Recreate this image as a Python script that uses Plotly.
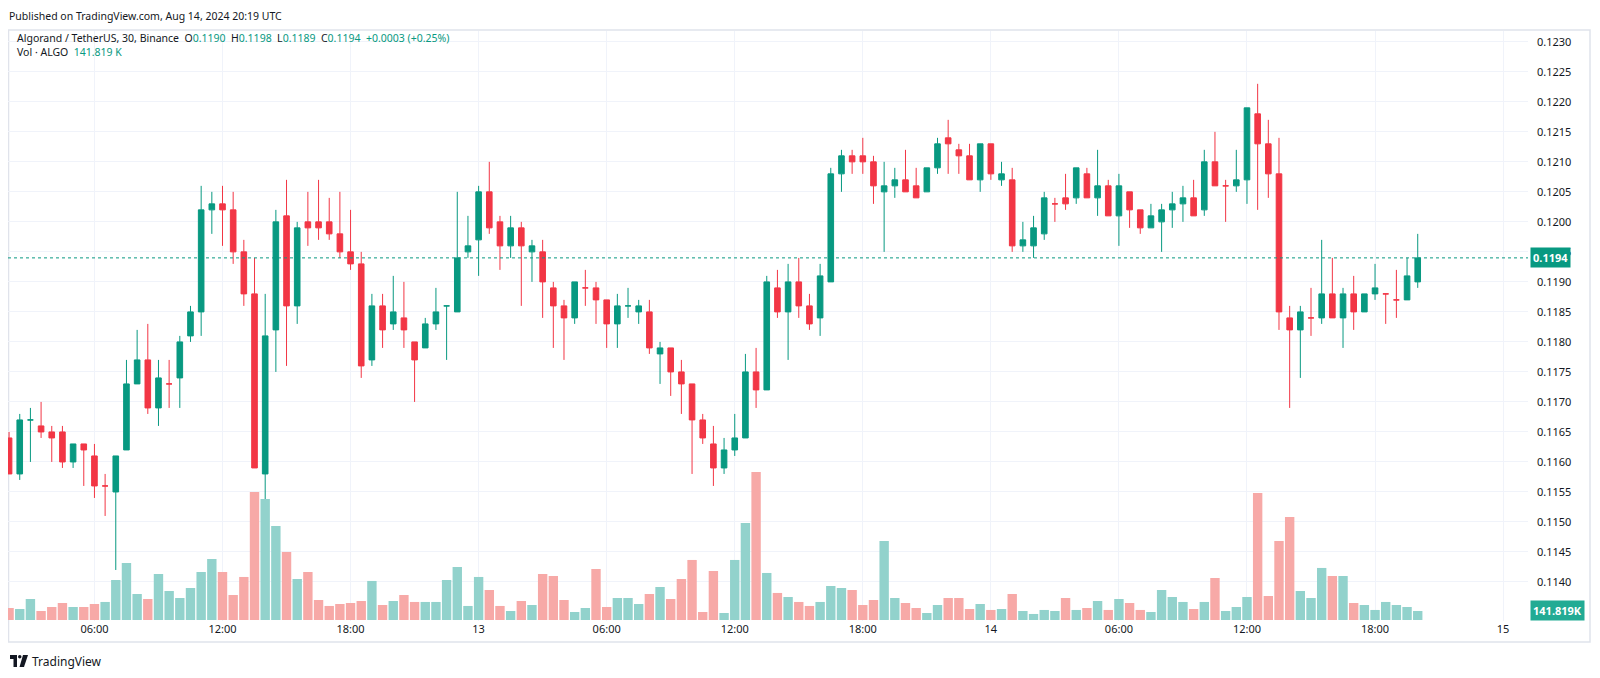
import pandas as pd
import plotly.graph_objects as go

# ALGO/USDT 30m candles, Aug 12 02:00 -> Aug 14 20:00 UTC
start = "2024-08-12 02:00"

opens = [0.1164, 0.1158, 0.1167, 0.1166, 0.1165, 0.1165, 0.1160, 0.1163, 0.1161, 0.1156,
         0.1155, 0.1162, 0.1173, 0.1177, 0.1169, 0.1173, 0.1174, 0.1181, 0.1185, 0.1202,
         0.1203, 0.1202, 0.1195, 0.1188, 0.1158, 0.1182, 0.1201, 0.1186, 0.1200, 0.1200,
         0.1200, 0.1198, 0.1195, 0.1193, 0.1177, 0.1186, 0.1183, 0.1184, 0.1180, 0.1179,
         0.1183, 0.1186, 0.1185, 0.1195, 0.1197, 0.1205, 0.1200, 0.1196, 0.1199, 0.1195,
         0.1195, 0.1189, 0.1186, 0.1184, 0.1189, 0.1189, 0.1187, 0.1183, 0.1186, 0.1185,
         0.1185, 0.1178, 0.1179, 0.1175, 0.1173, 0.1167, 0.1163, 0.1159, 0.1162, 0.1164,
         0.1175, 0.1172, 0.1189, 0.1185, 0.1190, 0.1186, 0.1184, 0.1190, 0.1208, 0.1211,
         0.1211, 0.1210, 0.1205, 0.1206, 0.1207, 0.1206, 0.1205, 0.1209, 0.1214, 0.1212,
         0.1211, 0.1207, 0.1213, 0.1207, 0.1207, 0.1196, 0.1196, 0.1198, 0.1203, 0.1204,
         0.1204, 0.1208, 0.1204, 0.1206, 0.1201, 0.1205, 0.1202, 0.1199, 0.1200, 0.1202,
         0.1203, 0.1204, 0.1202, 0.1210, 0.1206, 0.1206, 0.1207, 0.1218, 0.1213, 0.1208,
         0.1184, 0.1182, 0.1184, 0.1184, 0.1188, 0.1184, 0.1188, 0.1185, 0.1188, 0.1188,
         0.1187, 0.1187, 0.1190]
highs = [0.1165, 0.1168, 0.1169, 0.1170, 0.1166, 0.1166, 0.1163, 0.1163, 0.1163, 0.1158,
         0.1161, 0.1177, 0.1182, 0.1183, 0.1177, 0.1177, 0.1181, 0.1186, 0.1206, 0.1205,
         0.1206, 0.1205, 0.1197, 0.1194, 0.1188, 0.1202, 0.1207, 0.1200, 0.1205, 0.1207,
         0.1204, 0.1205, 0.1202, 0.1195, 0.1188, 0.1188, 0.1191, 0.1190, 0.1180, 0.1184,
         0.1189, 0.1186, 0.1205, 0.1201, 0.1206, 0.1210, 0.1201, 0.1201, 0.1200, 0.1197,
         0.1197, 0.1190, 0.1187, 0.1190, 0.1192, 0.1190, 0.1187, 0.1188, 0.1189, 0.1187,
         0.1187, 0.1180, 0.1179, 0.1177, 0.1173, 0.1168, 0.1166, 0.1164, 0.1168, 0.1178,
         0.1179, 0.1191, 0.1192, 0.1193, 0.1194, 0.1188, 0.1193, 0.1209, 0.1212, 0.1212,
         0.1214, 0.1211, 0.1210, 0.1209, 0.1212, 0.1209, 0.1209, 0.1214, 0.1217, 0.1213,
         0.1213, 0.1213, 0.1213, 0.1210, 0.1209, 0.1200, 0.1201, 0.1205, 0.1204, 0.1208,
         0.1209, 0.1209, 0.1212, 0.1207, 0.1208, 0.1205, 0.1202, 0.1203, 0.1203, 0.1205,
         0.1206, 0.1207, 0.1212, 0.1215, 0.1207, 0.1212, 0.1219, 0.1223, 0.1217, 0.1214,
         0.1186, 0.1186, 0.1189, 0.1197, 0.1194, 0.1189, 0.1191, 0.1188, 0.1193, 0.1188,
         0.1192, 0.1194, 0.1198]
lows = [0.1158, 0.1157, 0.1160, 0.1164, 0.1160, 0.1159, 0.1159, 0.1156, 0.1154, 0.1151,
        0.1142, 0.1162, 0.1173, 0.1168, 0.1166, 0.1169, 0.1169, 0.1180, 0.1181, 0.1198,
        0.1196, 0.1193, 0.1186, 0.1159, 0.1148, 0.1175, 0.1176, 0.1183, 0.1196, 0.1197,
        0.1197, 0.1194, 0.1192, 0.1174, 0.1176, 0.1179, 0.1182, 0.1179, 0.1170, 0.1179,
        0.1182, 0.1177, 0.1185, 0.1194, 0.1191, 0.1198, 0.1192, 0.1194, 0.1186, 0.1190,
        0.1184, 0.1179, 0.1177, 0.1183, 0.1186, 0.1183, 0.1179, 0.1179, 0.1184, 0.1183,
        0.1178, 0.1173, 0.1171, 0.1168, 0.1158, 0.1163, 0.1156, 0.1158, 0.1161, 0.1164,
        0.1169, 0.1172, 0.1184, 0.1177, 0.1184, 0.1182, 0.1181, 0.1190, 0.1205, 0.1208,
        0.1208, 0.1203, 0.1195, 0.1204, 0.1205, 0.1204, 0.1205, 0.1208, 0.1208, 0.1208,
        0.1207, 0.1205, 0.1207, 0.1206, 0.1195, 0.1195, 0.1194, 0.1197, 0.1200, 0.1202,
        0.1203, 0.1204, 0.1201, 0.1201, 0.1196, 0.1199, 0.1198, 0.1199, 0.1195, 0.1199,
        0.1200, 0.1201, 0.1201, 0.1206, 0.1200, 0.1205, 0.1203, 0.1202, 0.1204, 0.1182,
        0.1169, 0.1174, 0.1181, 0.1183, 0.1184, 0.1179, 0.1182, 0.1185, 0.1187, 0.1183,
        0.1184, 0.1187, 0.1189]
closes = [0.1158, 0.1167, 0.1167, 0.1165, 0.1164, 0.1160, 0.1163, 0.1162, 0.1156, 0.1156,
          0.1161, 0.1173, 0.1177, 0.1169, 0.1174, 0.1173, 0.1180, 0.1185, 0.1202, 0.1203,
          0.1202, 0.1195, 0.1188, 0.1159, 0.1181, 0.1200, 0.1186, 0.1199, 0.1199, 0.1199,
          0.1198, 0.1195, 0.1193, 0.1176, 0.1186, 0.1182, 0.1185, 0.1182, 0.1177, 0.1183,
          0.1185, 0.1186, 0.1194, 0.1196, 0.1205, 0.1199, 0.1196, 0.1199, 0.1196, 0.1196,
          0.1190, 0.1186, 0.1184, 0.1190, 0.1189, 0.1187, 0.1183, 0.1186, 0.1186, 0.1186,
          0.1179, 0.1179, 0.1175, 0.1173, 0.1167, 0.1164, 0.1159, 0.1162, 0.1164, 0.1175,
          0.1172, 0.1190, 0.1185, 0.1190, 0.1186, 0.1183, 0.1191, 0.1208, 0.1211, 0.1210,
          0.1210, 0.1206, 0.1206, 0.1207, 0.1205, 0.1204, 0.1209, 0.1213, 0.1213, 0.1211,
          0.1207, 0.1213, 0.1208, 0.1208, 0.1196, 0.1197, 0.1199, 0.1204, 0.1203, 0.1203,
          0.1209, 0.1204, 0.1206, 0.1201, 0.1206, 0.1202, 0.1199, 0.1201, 0.1202, 0.1203,
          0.1204, 0.1201, 0.1210, 0.1206, 0.1206, 0.1207, 0.1219, 0.1213, 0.1208, 0.1185,
          0.1182, 0.1185, 0.1184, 0.1188, 0.1184, 0.1188, 0.1185, 0.1188, 0.1189, 0.1188,
          0.1187, 0.1191, 0.1194]
# volume in thousands of ALGO
volumes = [189, 173, 331, 142, 205, 268, 205, 205, 252, 284,
           630, 898, 410, 331, 725, 457, 347, 504, 756, 961,
           756, 394, 678, 2017, 1907, 1481, 1072, 646, 756, 315,
           221, 252, 268, 299, 615, 236, 299, 394, 284, 284,
           284, 630, 835, 221, 678, 473, 221, 142, 299, 236,
           725, 693, 315, 126, 189, 804, 205, 347, 347, 252,
           410, 520, 331, 646, 946, 126, 772, 110, 946, 1529,
           2332, 741, 426, 362, 284, 221, 284, 536, 504, 473,
           236, 315, 1245, 347, 268, 189, 110, 236, 347, 347,
           173, 252, 158, 173, 410, 142, 95, 158, 142, 347,
           158, 189, 299, 158, 331, 268, 158, 126, 473, 362,
           284, 173, 284, 662, 142, 205, 362, 2002, 378, 1245,
           1623, 457, 347, 820, 693, 693, 268, 236, 158, 284,
           236, 205, 141.819]

tick_vals = ["2024-08-12 06:00", "2024-08-12 12:00", "2024-08-12 18:00", "2024-08-13 00:00",
             "2024-08-13 06:00", "2024-08-13 12:00", "2024-08-13 18:00", "2024-08-14 00:00",
             "2024-08-14 06:00", "2024-08-14 12:00", "2024-08-14 18:00", "2024-08-15 00:00"]
tick_text = ["06:00", "12:00", "18:00", "13", "06:00", "12:00", "18:00", "14",
             "06:00", "12:00", "18:00", "15"]
price_ticks = [0.1140, 0.1145, 0.1150, 0.1155, 0.1160, 0.1165, 0.1170, 0.1175, 0.1180, 0.1185,
               0.1190, 0.1195, 0.1200, 0.1205, 0.1210, 0.1215, 0.1220, 0.1225, 0.1230]
last_price = 0.1194

UP = "#089981"
DOWN = "#F23645"
FONT = "Noto Sans"

times = pd.date_range(start, periods=len(opens), freq="30min")
vol_colors = ["#92D2CC" if c >= o else "#F7A9A7" for o, c in zip(opens, closes)]


# page pixel -> paper coordinates (plot area spans x 8..1528, y 31..621 on the page)
def px(x):
    return (x - 8) / 1520


def py(y):
    return (621 - y) / 590


fig = go.Figure()

fig.add_trace(go.Bar(
    x=times, y=volumes, marker=dict(color=vol_colors, line=dict(width=0)),
    yaxis="y2", hoverinfo="skip", showlegend=False,
))

fig.add_trace(go.Candlestick(
    x=times, open=opens, high=highs, low=lows, close=closes,
    increasing=dict(line=dict(color=UP, width=1), fillcolor=UP),
    decreasing=dict(line=dict(color=DOWN, width=1), fillcolor=DOWN),
    whiskerwidth=0, showlegend=False, name="ALGOUSDT",
))

# the page body has an 8px margin, so the figure is 8px smaller each way
fig.update_layout(
    width=1592, height=670,
    margin=dict(l=0, r=72, t=23, b=57),
    paper_bgcolor="white", plot_bgcolor="white",
    font=dict(family=FONT, size=11, color="#131722"),
    bargap=0.12, boxgap=0.25,
    showlegend=False,
    xaxis=dict(
        type="date", range=["2024-08-12 01:57", "2024-08-15 01:10"],
        rangeslider=dict(visible=False),
        tickvals=tick_vals, ticktext=tick_text,
        showgrid=True, gridcolor="#F0F3FA", gridwidth=1,
        zeroline=False, showline=False, ticks="",
        tickfont=dict(size=11, color="#131722"),
    ),
    yaxis=dict(
        side="right", range=[0.11335, 0.12318],
        tickvals=price_ticks, tickformat=".4f",
        showgrid=True, gridcolor="#F0F3FA", gridwidth=1,
        zeroline=False, showline=False, ticks="",
        ticklabelstandoff=8,
        tickfont=dict(size=11, color="#131722"),
    ),
    yaxis2=dict(
        overlaying="y", range=[-16, 9282], visible=False,
    ),
)

# last price line and labels
fig.add_shape(type="line", xref="paper", yref="y", x0=0, x1=1, y0=last_price, y1=last_price,
              line=dict(color=UP, width=1, dash="dot"))
fig.add_annotation(xref="paper", yref="y", x=1, y=last_price, xanchor="left", xshift=2,
                   text="<b>%.4f</b>" % last_price, showarrow=False, bgcolor=UP,
                   font=dict(color="white", size=11, family=FONT), borderpad=2)
fig.add_annotation(xref="paper", yref="y2", x=1, y=volumes[-1], xanchor="left", xshift=2,
                   text="<b>%.3fK</b>" % volumes[-1], showarrow=False, bgcolor="#22AB94",
                   font=dict(color="white", size=11, family=FONT), borderpad=2)

# chart frame
fig.add_shape(type="rect", xref="paper", yref="paper", x0=px(8.5), x1=px(1590), y0=py(30), y1=py(642),
              line=dict(color="#E0E3EB", width=1.5), layer="below")

# header texts
fig.add_annotation(xref="paper", yref="paper", x=px(8), y=py(8), xanchor="left", yanchor="top",
                   text="Published on TradingView.com, Aug 14, 2024 20:19 UTC", showarrow=False,
                   borderpad=0, font=dict(size=10.5, color="#131722", family=FONT))
g = lambda s: "<span style='color:%s'>%s</span>" % (UP, s)
legend1 = ("Algorand / TetherUS, 30, Binance  O" + g("0.1190") + "  H" + g("0.1198") + "  L" + g("0.1189")
           + "  C" + g("0.1194") + "  " + g("+0.0003 (+0.25%)"))
fig.add_annotation(xref="paper", yref="paper", x=px(15), y=py(38), xanchor="left", yanchor="middle",
                   text=legend1, showarrow=False, font=dict(size=10.5, color="#131722", family=FONT))
fig.add_annotation(xref="paper", yref="paper", x=px(15), y=py(52), xanchor="left", yanchor="middle",
                   text="Vol · ALGO  " + g("141.819 K"), showarrow=False,
                   font=dict(size=10.5, color="#131722", family=FONT))

# footer logo + brand
fig.add_shape(type="rect", xref="paper", yref="paper", x0=px(10), x1=px(17), y0=py(655), y1=py(659),
              fillcolor="#131722", line=dict(width=0))
fig.add_shape(type="rect", xref="paper", yref="paper", x0=px(13.5), x1=px(17), y0=py(655), y1=py(667),
              fillcolor="#131722", line=dict(width=0))
fig.add_shape(type="circle", xref="paper", yref="paper", x0=px(18), x1=px(21.5), y0=py(655), y1=py(658.5),
              fillcolor="#131722", line=dict(width=0))
fig.add_shape(type="path", xref="paper", yref="paper",
              path="M %f %f L %f %f L %f %f L %f %f Z" % (px(23), py(655), px(28), py(655), px(24), py(667),
                                                          px(19.5), py(667)),
              fillcolor="#131722", line=dict(width=0))
fig.add_annotation(xref="paper", yref="paper", x=px(30), y=py(661), xanchor="left", yanchor="middle",
                   text="TradingView", showarrow=False, font=dict(size=12, color="#131722", family=FONT))

fig.write_html("out.html")
